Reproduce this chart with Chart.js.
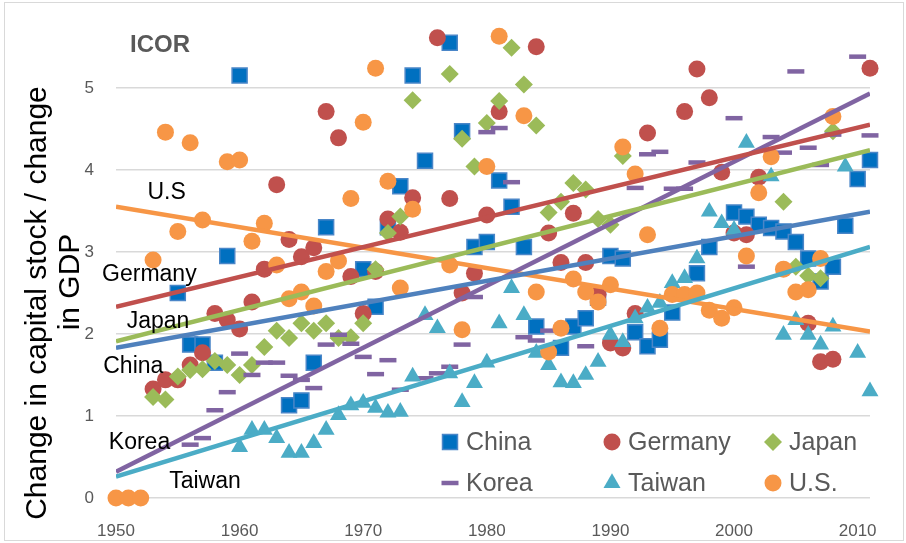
<!DOCTYPE html>
<html>
<head>
<meta charset="utf-8">
<script src="https://cdn.jsdelivr.net/npm/chart.js@4.4.0/dist/chart.umd.min.js"></script>
<style>
  html, body { margin: 0; padding: 0; background: #fff; }
</style>
</head>
<body>
<canvas id="icor" width="906" height="543"></canvas>
<script>
// ICOR by country, 1950-2011
const chinaYears = [1955,1956,1957,1958,1959,1960,1964,1965,1966,1967,1970,1971,1972,1973,1974,1975,1977,1978,1979,1980,1981,1982,1983,1984,1986,1987,1988,1989,1990,1991,1992,1993,1994,1995,1997,1998,2000,2001,2002,2003,2004,2005,2006,2007,2008,2009,2010,2011];
const chinaValues = [2.50,1.87,1.87,1.65,2.95,5.15,1.13,1.19,1.65,3.30,2.79,2.33,3.30,3.80,5.15,4.11,5.55,4.47,3.06,3.12,3.87,3.55,3.06,2.09,1.83,2.09,2.19,2.44,2.95,2.92,2.02,1.85,1.93,2.26,2.74,3.06,3.48,3.43,3.33,3.29,3.25,3.12,2.92,2.64,2.82,3.32,3.89,4.12];

const germanyYears = [1953,1954,1955,1956,1957,1958,1959,1960,1961,1962,1963,1964,1965,1966,1967,1968,1969,1970,1971,1972,1973,1974,1976,1977,1978,1979,1980,1981,1984,1985,1986,1987,1988,1989,1990,1991,1992,1993,1996,1997,1998,1999,2000,2001,2002,2006,2007,2008,2011];
const germanyValues = [1.33,1.44,1.44,1.62,1.77,2.25,2.17,2.06,2.39,2.79,3.82,3.15,2.94,3.05,4.71,4.39,2.70,2.25,2.76,3.40,3.24,3.66,5.61,3.65,2.50,2.74,3.45,4.71,5.50,3.23,2.87,3.47,2.87,2.48,1.89,1.83,2.25,4.45,4.71,5.23,4.88,3.97,3.23,3.21,3.91,2.13,1.66,1.69,5.24];

const japanYears = [1953,1954,1955,1956,1957,1958,1959,1960,1961,1962,1963,1964,1965,1966,1967,1968,1969,1970,1971,1972,1973,1974,1977,1978,1979,1980,1981,1982,1983,1984,1985,1986,1987,1988,1989,1990,1991,2004,2005,2006,2007,2008];
const japanValues = [1.23,1.20,1.48,1.56,1.57,1.67,1.62,1.50,1.62,1.84,2.04,1.95,2.13,2.04,2.13,1.95,1.96,2.13,2.79,3.23,3.43,4.85,5.17,4.38,4.04,4.57,4.84,5.49,5.04,4.54,3.48,3.61,3.84,3.76,3.40,3.33,4.17,3.61,2.82,2.71,2.68,4.47];

const koreaYears = [1956,1957,1958,1959,1960,1961,1962,1963,1964,1965,1966,1967,1968,1969,1970,1971,1972,1973,1975,1976,1977,1978,1979,1980,1981,1982,1983,1984,1985,1988,1992,1993,1994,1995,1996,1997,2000,2001,2003,2004,2005,2006,2007,2008,2010,2011];
const koreaValues = [0.65,0.73,1.07,1.29,1.76,1.50,1.65,1.65,1.49,1.44,1.34,1.87,1.99,1.88,1.72,1.51,1.68,1.32,1.46,1.52,1.60,1.87,2.45,4.46,4.51,3.85,1.96,1.92,2.04,1.85,3.78,4.19,4.22,3.77,3.77,4.09,4.63,2.82,4.40,4.21,5.20,4.27,4.06,4.43,5.38,4.42];

const taiwanYears = [1960,1961,1962,1963,1964,1965,1966,1967,1968,1969,1970,1971,1972,1973,1974,1975,1976,1977,1978,1979,1980,1981,1982,1983,1984,1985,1986,1987,1988,1989,1990,1991,1992,1993,1994,1995,1996,1997,1998,1999,2000,2001,2003,2004,2005,2006,2007,2008,2009,2010,2011];
const taiwanValues = [0.62,0.83,0.83,0.73,0.55,0.55,0.67,0.83,1.01,1.13,1.16,1.10,1.04,1.05,1.48,2.23,2.07,1.52,1.17,1.40,1.65,2.13,2.56,2.23,1.77,1.62,1.41,1.40,1.50,1.66,1.99,1.90,2.19,2.32,2.38,2.62,2.68,2.92,3.49,3.35,3.27,4.33,3.92,1.99,2.17,1.99,1.87,2.09,4.04,1.77,1.30];

const usYears = [1950,1951,1952,1953,1954,1955,1956,1957,1959,1960,1961,1962,1963,1964,1965,1966,1967,1968,1969,1970,1971,1972,1973,1974,1977,1978,1980,1981,1983,1984,1985,1986,1987,1988,1989,1990,1991,1992,1993,1994,1995,1996,1997,1998,1999,2000,2001,2002,2003,2004,2005,2006,2007,2008];
const usValues = [0,0,0,2.90,4.46,3.25,4.33,3.39,4.10,4.12,3.13,3.35,2.84,2.43,2.51,2.34,2.76,2.89,3.65,4.58,5.24,3.86,2.56,3.52,2.84,2.05,4.04,5.63,4.66,2.51,1.78,2.07,2.67,2.51,2.39,2.60,4.28,3.95,3.21,2.07,2.48,2.48,2.50,2.29,2.19,2.32,2.95,3.72,4.16,2.79,2.51,2.54,2.92,4.65];

// linear trend lines, value at first and last year
const trendYears = [1950, 2011];
const trendStart = [1.83, 2.33, 1.91, 0.32, 0.26, 3.55];
const trendEnd = [3.49, 4.55, 4.24, 4.93, 3.06, 2.03];

const countries = ['China', 'Germany', 'Japan', 'Korea', 'Taiwan', 'U.S.'];
const lineLabels = ['U.S', 'Germany', 'Japan', 'China', 'Korea', 'Taiwan'];
const xTicks = [1950, 1960, 1970, 1980, 1990, 2000, 2010];
const yTicks = [0, 1, 2, 3, 4, 5];

const allYears = [chinaYears, germanyYears, japanYears, koreaYears, taiwanYears, usYears];
const allValues = [chinaValues, germanyValues, japanValues, koreaValues, taiwanValues, usValues];

const looks = [
  { style: 'rect',     fill: '#0070c0', edge: '#4a86c8', line: '#4f81bd', r: 10.6, bw: 1.5 },
  { style: 'circle',   fill: '#c0504d', edge: '#c0504d', line: '#c0504d', r: 8.5,  bw: 0 },
  { style: 'rectRot',  fill: '#9bbb59', edge: '#9bbb59', line: '#9bbb59', r: 9,    bw: 0 },
  { style: 'line',     fill: '#8064a2', edge: '#8064a2', line: '#8064a2', r: 8.5,  bw: 4.5 },
  { style: 'triangle', fill: '#4bacc6', edge: '#4bacc6', line: '#4bacc6', r: 9.8,  bw: 0 },
  { style: 'circle',   fill: '#f79646', edge: '#f79646', line: '#f79646', r: 8.5,  bw: 0 }
];

// where the inline series names sit, in data units
const labelSpots = [[1954.1, 3.72], [1952.7, 2.72], [1953.4, 2.15], [1951.4, 1.60], [1951.9, 0.68], [1957.2, 0.20]];

const datasets = [];
countries.forEach((name, i) => {
  datasets.push({
    label: name,
    data: allYears[i].map((yr, k) => ({ x: yr, y: allValues[i][k] })),
    pointStyle: looks[i].style,
    pointRadius: looks[i].r,
    pointBackgroundColor: looks[i].fill,
    pointBorderColor: looks[i].edge,
    pointBorderWidth: looks[i].bw,
    showLine: false,
    clip: false,
    order: 6 - i + 1
  });
});
countries.forEach((name, i) => {
  datasets.push({
    label: name + ' trend',
    type: 'line',
    data: trendYears.map((yr, k) => ({ x: yr, y: k === 0 ? trendStart[i] : trendEnd[i] })),
    borderColor: looks[i].line,
    borderWidth: 4.5,
    pointRadius: 0,
    fill: false,
    order: 0
  });
});

function marker(ctx, look, x, y) {
  const r = look.r;
  ctx.save();
  ctx.fillStyle = look.fill;
  ctx.strokeStyle = look.edge;
  ctx.lineWidth = look.bw;
  ctx.beginPath();
  if (look.style === 'rect') {
    const s = r * Math.SQRT1_2;
    ctx.rect(x - s, y - s, 2 * s, 2 * s);
    ctx.fill(); ctx.stroke();
  } else if (look.style === 'circle') {
    ctx.arc(x, y, r, 0, Math.PI * 2);
    ctx.fill();
  } else if (look.style === 'rectRot') {
    ctx.moveTo(x, y - r); ctx.lineTo(x + r, y); ctx.lineTo(x, y + r); ctx.lineTo(x - r, y);
    ctx.closePath(); ctx.fill();
  } else if (look.style === 'triangle') {
    for (let a = 0; a < 3; a++) {
      const ang = a * 2 * Math.PI / 3;
      const px = x + Math.sin(ang) * r, py = y - Math.cos(ang) * r;
      if (a === 0) ctx.moveTo(px, py); else ctx.lineTo(px, py);
    }
    ctx.closePath(); ctx.fill();
  } else if (look.style === 'line') {
    ctx.moveTo(x - r, y); ctx.lineTo(x + r, y);
    ctx.stroke();
  }
  ctx.restore();
}

const extras = {
  id: 'extras',
  afterDraw(chart) {
    const ctx = chart.ctx;
    const xs = chart.scales.x, ys = chart.scales.y;
    ctx.save();

    // frame
    ctx.strokeStyle = '#d9d9d9';
    ctx.lineWidth = 1;
    ctx.strokeRect(4.5, 2.5, 899, 538);

    // heading
    ctx.fillStyle = '#595959';
    ctx.font = 'bold 24px "Liberation Sans", Arial, sans-serif';
    ctx.textAlign = 'center';
    ctx.textBaseline = 'middle';
    ctx.fillText('ICOR', 160, 45);

    // y title
    ctx.fillStyle = '#000';
    ctx.font = '30px "Liberation Sans", Arial, sans-serif';
    ctx.save();
    ctx.translate(38, 303);
    ctx.rotate(-Math.PI / 2);
    ctx.fillText('Change in capital stock / change', 0, 0);
    ctx.restore();
    ctx.save();
    ctx.translate(71, 282);
    ctx.rotate(-Math.PI / 2);
    ctx.fillText('in GDP', 0, 0);
    ctx.restore();

    // inline series names
    ctx.font = '23px "Liberation Sans", Arial, sans-serif';
    lineLabels.forEach((t, i) => {
      ctx.fillText(t, xs.getPixelForValue(labelSpots[i][0]), ys.getPixelForValue(labelSpots[i][1]));
    });

    // legend, 3 columns x 2 rows
    const colX = [450, 612, 773];
    const rowY = [442, 483];
    ctx.font = '25px "Liberation Sans", Arial, sans-serif';
    ctx.textAlign = 'left';
    countries.forEach((name, i) => {
      const cx = colX[i % 3], cy = rowY[Math.floor(i / 3)];
      marker(ctx, looks[i], cx, cy);
      ctx.fillStyle = '#595959';
      ctx.fillText(name, cx + 16, cy + 1);
    });
    ctx.restore();
  }
};

new Chart(document.getElementById('icor'), {
  type: 'scatter',
  data: { datasets: datasets },
  options: {
    responsive: false,
    animation: false,
    layout: { autoPadding: false, padding: { top: 14, right: 36, bottom: 0, left: 0 } },
    plugins: {
      legend: { display: false },
      tooltip: { enabled: false }
    },
    scales: {
      x: {
        type: 'linear',
        min: 1950,
        max: 2011,
        afterBuildTicks: axis => { axis.ticks = xTicks.map(v => ({ value: v })); },
        afterFit: axis => { axis.height = 45; axis.paddingLeft = 0; axis.paddingRight = 0; },
        grid: { display: false, drawTicks: false },
        border: { display: false },
        ticks: {
          padding: 23,
          color: '#595959',
          font: { family: '"Liberation Sans", Arial, sans-serif', size: 17 },
          callback: v => String(v),
          maxRotation: 0
        }
      },
      y: {
        min: 0,
        max: 5.9,
        afterBuildTicks: axis => { axis.ticks = yTicks.map(v => ({ value: v })); },
        afterFit: axis => { axis.width = 116; axis.paddingTop = 0; axis.paddingBottom = 0; },
        grid: { color: '#d9d9d9', lineWidth: 1.5, drawTicks: false },
        border: { display: false },
        ticks: {
          padding: 22,
          color: '#595959',
          font: { family: '"Liberation Sans", Arial, sans-serif', size: 17 }
        }
      }
    }
  },
  plugins: [extras]
});
</script>
</body>
</html>
